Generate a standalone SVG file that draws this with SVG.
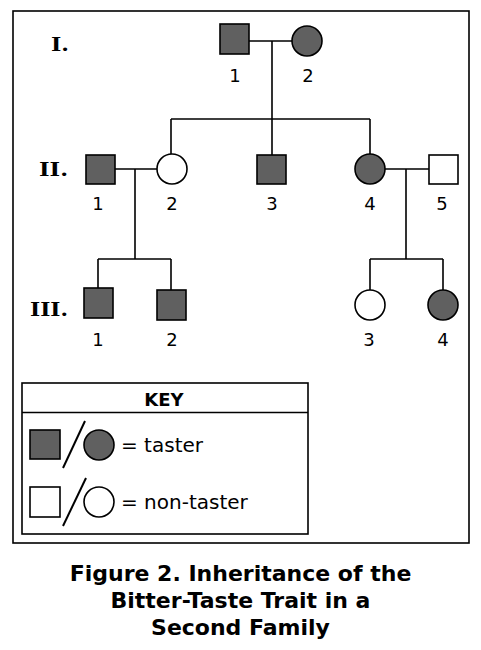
<svg xmlns="http://www.w3.org/2000/svg" width="481" height="650" viewBox="0 0 481 650">
<style>
.t{fill:#606060;stroke:#000;stroke-width:1.6}
.n{fill:#fff;stroke:#000;stroke-width:1.6}
.ln{fill:none;stroke:#000;stroke-width:1.6}
.num{font-family:"DejaVu Sans",Verdana,sans-serif;font-size:18px;text-anchor:middle;fill:#000}
.gen{font-family:"DejaVu Serif","Liberation Serif",serif;font-weight:bold;font-size:18px;fill:#000}
.key{font-family:"DejaVu Sans",Verdana,sans-serif;font-size:20px;fill:#000}
.title{font-family:"DejaVu Sans",Verdana,sans-serif;font-weight:bold;font-size:22px;text-anchor:middle;fill:#000}
</style>
<rect x="0" y="0" width="481" height="650" fill="#fff"/>
<rect x="13" y="11" width="456" height="532" fill="none" stroke="#000" stroke-width="1.6"/>
<g id="gen-labels">
<text class="gen" x="51" y="51" textLength="18" lengthAdjust="spacingAndGlyphs">I.</text>
<text class="gen" x="39" y="176" textLength="29" lengthAdjust="spacingAndGlyphs">II.</text>
<text class="gen" x="30" y="316" textLength="38" lengthAdjust="spacingAndGlyphs">III.</text>
</g>
<g id="connectors">
<path class="ln" d="M249 41H292M272 41V119M171 119H370M171 119V154M272 119V155M370 119V154"/>
<path class="ln" d="M115 169H157M135 169V259M98 259H171M98 259V288M171 259V290"/>
<path class="ln" d="M385 169H429M406 169V259M370 259H443M370 259V290M443 259V290"/>
</g>
<g id="I-1"><rect class="t" x="220" y="24" width="29" height="30"/><text class="num" x="235" y="82">1</text></g>
<g id="I-2"><circle class="t" cx="307" cy="41" r="15"/><text class="num" x="308" y="82">2</text></g>
<g id="II-1"><rect class="t" x="86" y="155" width="29" height="29"/><text class="num" x="98" y="210">1</text></g>
<g id="II-2"><circle class="n" cx="172" cy="169" r="15"/><text class="num" x="172" y="210">2</text></g>
<g id="II-3"><rect class="t" x="257" y="155" width="29" height="29"/><text class="num" x="272" y="210">3</text></g>
<g id="II-4"><circle class="t" cx="370" cy="169" r="15"/><text class="num" x="370" y="210">4</text></g>
<g id="II-5"><rect class="n" x="429" y="155" width="29" height="29"/><text class="num" x="442" y="210">5</text></g>
<g id="III-1"><rect class="t" x="84" y="288" width="29" height="30"/><text class="num" x="98" y="346">1</text></g>
<g id="III-2"><rect class="t" x="157" y="290" width="29" height="30"/><text class="num" x="172" y="346">2</text></g>
<g id="III-3"><circle class="n" cx="370" cy="305" r="15"/><text class="num" x="369" y="346">3</text></g>
<g id="III-4"><circle class="t" cx="443" cy="305" r="15"/><text class="num" x="443" y="346">4</text></g>
<g id="key">
<rect x="22" y="383" width="286" height="151" fill="none" stroke="#000" stroke-width="1.6"/>
<line x1="22" y1="412.5" x2="308" y2="412.5" stroke="#000" stroke-width="1.6"/>
<text x="164" y="406" font-family="DejaVu Sans,Verdana,sans-serif" font-weight="bold" font-size="18" text-anchor="middle">KEY</text>
<rect class="t" x="30" y="430" width="30" height="29"/>
<line x1="63" y1="468" x2="85" y2="421" stroke="#000" stroke-width="2"/>
<circle class="t" cx="99" cy="445" r="15"/>
<text class="key" x="121" y="452">= taster</text>
<rect class="n" x="30" y="487" width="30" height="30"/>
<line x1="63" y1="526" x2="86" y2="478" stroke="#000" stroke-width="2"/>
<circle class="n" cx="99" cy="502" r="15"/>
<text class="key" x="121" y="509">= non-taster</text>
</g>
<g id="caption">
<text class="title" x="240.5" y="581">Figure 2. Inheritance of the</text>
<text class="title" x="240.5" y="608">Bitter-Taste Trait in a</text>
<text class="title" x="240.5" y="635">Second Family</text>
</g>
</svg>
